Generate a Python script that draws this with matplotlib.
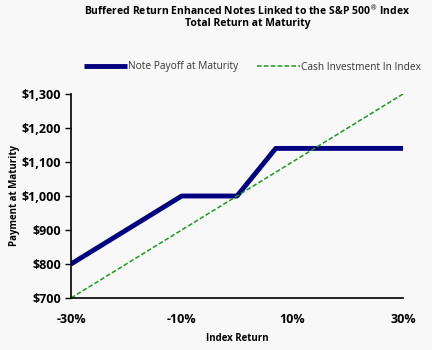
import matplotlib
matplotlib.use("Agg")
import matplotlib.pyplot as plt
import matplotlib.ticker as mticker

plt.rcParams['font.family'] = ['Open Sans', 'DejaVu Sans']

index_return = [-30, -10, 0, 7, 30]
note_payoff = [800, 1000, 1000, 1140, 1140]
cash_return = [-30, 30]
cash_payoff = [700, 1300]

x_ticks = [-30, -10, 10, 30]
y_ticks = [700, 800, 900, 1000, 1100, 1200, 1300]

bg = '#f8f8f8'
fig = plt.figure(figsize=(4.32, 3.5), dpi=100, facecolor=bg)
ax = fig.add_axes([71/432, 1 - 298/350, 332/432, 204/350], facecolor=bg)

ax.plot(index_return, note_payoff, color='#000080', lw=3.5, solid_capstyle='butt',
        label='Note Payoff at Maturity')
ax.plot(cash_return, cash_payoff, color='#1a9a1a', lw=1.1, ls=(0, (3, 1.5)),
        label='Cash Investment In Index')

ax.set_xlim(-30, 30)
ax.set_ylim(700, 1300)
ax.set_xticks(x_ticks)
ax.set_xticklabels([f'{t}%' for t in x_ticks])
ax.set_yticks(y_ticks)
ax.yaxis.set_major_formatter(mticker.FuncFormatter(lambda v, p: f'${v:,.0f}'))
for s in ['top', 'right']:
    ax.spines[s].set_visible(False)
for s in ['left', 'bottom']:
    ax.spines[s].set_linewidth(1.2)
ax.tick_params(axis='x', length=0, pad=11, labelsize=9)
ax.tick_params(axis='y', length=4, width=1, labelsize=9, pad=3)
for lab in ax.get_xticklabels() + ax.get_yticklabels():
    lab.set_fontweight('bold')

ax.set_xlabel('Index Return', fontsize=7, fontweight='bold', labelpad=5)
ax.set_ylabel('Payment at Maturity', fontsize=7, fontweight='bold', labelpad=1)

fig.text(0.573, 0.99, 'Buffered Return Enhanced Notes Linked to the S&P 500$^{\\circledR}$ Index\nTotal Return at Maturity',
         ha='center', va='top', fontsize=7.5, fontweight='bold', linespacing=1.1)
fig.legend(loc='center left', bbox_to_anchor=(80/432, 1 - 67/350), ncol=2, frameon=False,
           fontsize=7.3, handlelength=4.2, columnspacing=1.9, handletextpad=0.1,
           labelcolor='#333333', borderaxespad=0)

fig.savefig('out.png', dpi=100, facecolor=bg)
